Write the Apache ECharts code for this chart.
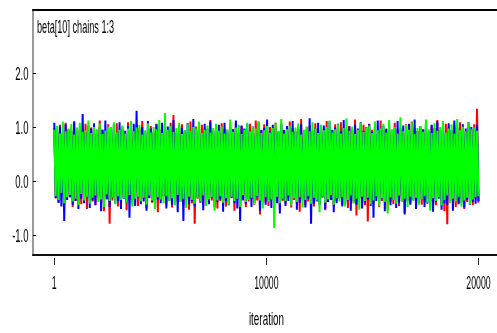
<!DOCTYPE html>
<html>
<head>
<meta charset="utf-8">
<script src="https://cdn.jsdelivr.net/npm/echarts@6/dist/echarts.min.js"></script>
<style>html,body{margin:0;padding:0;background:#fff}#c{width:497px;height:333px}</style>
</head>
<body>
<div id="c"></div>
<script>
// ---- data (each pair = local max / local min of a chain segment) ----
const titleText = 'beta[10] chains 1:3';
const xName = 'iteration';
const xTicks = [1, 10000, 20000];
const yTicks = [-1, 0, 1, 2];
const firstIter = 1, lastIter = 20000;

const redHi = [0.98,0.90,1.04,0.87,1.08,0.93,0.96,1.10,0.89,1.01,
0.94,1.06,0.91,0.99,1.03,0.88,1.12,0.95,0.92,1.05,
0.90,0.97,1.07,0.93,1.00,0.86,1.09,0.96,0.91,1.04,
0.98,1.11,0.89,0.94,1.02,0.92,1.06,0.97,0.88,1.03,
0.95,1.08,1.22,0.90,0.99,1.05,0.93,0.87,1.10,0.96,
1.01,0.91,1.04,0.98,0.89,1.13,0.94,1.00,0.92,1.07,
0.97,0.88,1.03,0.95,1.09,0.90,1.02,0.96,0.93,1.06,
0.99,1.12,0.91,0.94,1.05,0.87,1.00,0.97,1.08,0.92,
1.04,0.95,0.89,1.10,0.98,0.93,1.01,1.15,0.90,0.96,
1.03,0.88,1.07,0.94,1.00,0.97,1.11,0.91,0.95,1.05,
0.92,1.09,0.98,0.89,1.02,0.96,1.14,0.93,0.99,1.04,
0.90,1.06,0.95,1.00,0.87,1.12,0.94,0.97,1.03,0.91,
1.08,0.96,0.99,0.89,1.05,0.93,1.10,0.98,0.92,1.01,
0.95,1.07,0.90,1.03,0.97,1.13,0.94,0.88,1.06,1.00,
0.92,1.04,0.98,1.09,0.95,0.91,1.02,0.96,1.05,1.34];
const redLo = [-0.32,-0.40,-0.27,-0.45,-0.35,-0.30,-0.48,-0.37,-0.29,-0.43,
-0.34,-0.52,-0.31,-0.38,-0.44,-0.28,-0.41,-0.56,-0.33,-0.79,
-0.36,-0.30,-0.47,-0.39,-0.32,-0.54,-0.35,-0.42,-0.29,-0.46,
-0.38,-0.33,-0.50,-0.31,-0.40,-0.36,-0.58,-0.34,-0.28,-0.44,
-0.37,-0.49,-0.32,-0.39,-0.30,-0.45,-0.35,-0.53,-0.41,-0.79,
-0.33,-0.38,-0.46,-0.31,-0.42,-0.36,-0.29,-0.51,-0.37,-0.34,
-0.47,-0.40,-0.32,-0.55,-0.35,-0.43,-0.30,-0.48,-0.38,-0.33,
-0.44,-0.36,-0.62,-0.31,-0.39,-0.46,-0.34,-0.41,-0.29,-0.52,
-0.37,-0.43,-0.32,-0.49,-0.35,-0.40,-0.57,-0.33,-0.45,-0.38,
-0.30,-0.47,-0.36,-0.42,-0.31,-0.54,-0.39,-0.34,-0.46,-0.37,
-0.32,-0.44,-0.40,-0.50,-0.35,-0.41,-0.64,-0.33,-0.38,-0.45,
-0.75,-0.36,-0.42,-0.31,-0.48,-0.37,-0.34,-0.53,-0.39,-0.43,
-0.30,-0.46,-0.38,-0.59,-0.35,-0.41,-0.32,-0.49,-0.36,-0.44,
-0.40,-0.33,-0.51,-0.37,-0.45,-0.31,-0.42,-0.56,-0.80,-0.38,
-0.35,-0.48,-0.41,-0.34,-0.52,-0.39,-0.36,-0.45,-0.33,-0.40];

const blueHi = [1.08,0.93,1.01,0.89,1.05,0.96,0.91,1.10,0.98,0.94,
1.24,0.90,1.03,0.97,1.07,0.88,1.00,0.95,1.12,0.92,
0.99,1.04,0.87,1.09,0.96,0.93,1.02,0.90,1.06,1.30,
0.94,1.00,0.91,1.11,0.97,0.89,1.05,0.95,1.08,0.92,
1.01,0.96,1.13,0.88,1.03,0.98,0.93,1.07,0.90,1.15,
0.95,1.02,0.89,1.06,0.97,1.10,0.92,0.99,1.04,0.91,
1.08,0.94,1.00,0.96,1.12,0.89,1.03,0.97,1.06,0.93,
1.01,0.88,1.09,0.95,0.99,1.14,0.92,1.04,0.97,0.90,
1.07,0.94,1.02,0.98,1.11,0.91,0.96,1.05,0.89,1.00,
1.16,0.93,0.97,1.08,0.95,1.03,0.90,1.10,0.94,0.99,
1.06,0.92,1.13,0.96,1.01,0.88,1.04,0.97,1.09,0.93,
1.00,1.05,0.91,0.98,1.12,0.94,1.02,0.96,1.07,0.90,
0.99,1.11,0.95,1.03,0.92,1.06,0.97,1.14,0.93,1.01,
0.96,1.08,0.90,1.04,0.98,1.10,0.94,1.02,0.89,1.07,
0.95,1.12,0.99,0.93,1.05,0.97,1.09,1.00,0.96,1.04];
const blueLo = [-0.32,-0.40,-0.47,-0.74,-0.35,-0.30,-0.44,-0.37,-0.52,-0.33,
-0.41,-0.29,-0.50,-0.36,-0.45,-0.31,-0.56,-0.38,-0.34,-0.48,
-0.30,-0.42,-0.37,-0.52,-0.33,-0.40,-0.68,-0.35,-0.46,-0.30,
-0.43,-0.38,-0.55,-0.32,-0.39,-0.48,-0.34,-0.41,-0.29,-0.51,
-0.36,-0.44,-0.31,-0.58,-0.38,-0.74,-0.33,-0.42,-0.37,-0.47,
-0.30,-0.40,-0.54,-0.35,-0.43,-0.32,-0.49,-0.39,-0.34,-0.57,
-0.37,-0.45,-0.31,-0.41,-0.51,-0.74,-0.36,-0.42,-0.33,-0.48,
-0.39,-0.30,-0.55,-0.38,-0.44,-0.35,-0.50,-0.32,-0.41,-0.60,
-0.34,-0.46,-0.37,-0.43,-0.31,-0.53,-0.40,-0.36,-0.49,-0.33,
-0.79,-0.42,-0.38,-0.45,-0.30,-0.52,-0.39,-0.35,-0.58,-0.41,
-0.32,-0.47,-0.43,-0.36,-0.55,-0.38,-0.44,-0.31,-0.51,-0.40,
-0.34,-0.46,-0.68,-0.37,-0.42,-0.33,-0.56,-0.39,-0.45,-0.35,
-0.50,-0.41,-0.32,-0.62,-0.38,-0.44,-0.36,-0.52,-0.40,-0.34,
-0.48,-0.42,-0.37,-0.57,-0.39,-0.33,-0.53,-0.41,-0.45,-0.38,
-0.55,-0.36,-0.43,-0.40,-0.49,-0.35,-0.44,-0.39,-0.42,-0.37];

const greenHi = [0.95,1.02,0.88,1.10,0.92,0.97,1.05,0.86,0.99,1.08,
0.91,0.94,1.12,0.89,1.00,0.96,1.06,0.87,0.93,1.01,
0.98,1.09,0.90,0.95,1.03,0.88,0.97,1.11,0.92,0.99,
1.04,0.86,0.94,1.07,0.90,1.00,0.96,1.13,0.89,1.26,
0.95,1.02,0.91,0.98,1.08,0.87,0.94,1.05,0.92,1.00,
0.97,1.10,0.89,0.95,1.03,0.90,0.98,1.06,0.93,1.01,
0.88,0.96,1.14,0.91,0.99,1.04,0.87,0.95,1.08,0.92,
1.00,0.97,1.11,0.89,0.94,1.02,0.90,0.98,1.06,0.93,
1.15,0.88,0.96,1.03,0.91,0.99,1.07,0.86,0.95,1.01,
0.92,1.09,0.97,0.89,1.04,0.94,1.00,1.12,0.90,0.96,
1.05,0.88,0.98,1.16,0.93,1.01,0.87,0.95,1.08,0.91,
0.99,1.03,0.89,1.10,0.94,0.97,1.06,0.90,1.13,0.96,
1.00,0.88,1.18,0.92,1.04,0.95,1.09,0.87,0.98,1.02,
0.91,1.14,0.96,0.89,1.07,0.93,1.00,1.11,0.90,0.97,
1.05,0.88,1.15,0.94,1.01,0.92,1.08,0.96,0.99,0.93];
const greenLo = [-0.28,-0.35,-0.22,-0.41,-0.30,-0.26,-0.38,-0.33,-0.45,-0.24,
-0.36,-0.29,-0.42,-0.31,-0.27,-0.39,-0.34,-0.48,-0.25,-0.37,
-0.30,-0.43,-0.28,-0.35,-0.32,-0.40,-0.26,-0.47,-0.33,-0.29,
-0.38,-0.31,-0.44,-0.27,-0.36,-0.52,-0.30,-0.34,-0.41,-0.28,
-0.37,-0.32,-0.45,-0.26,-0.39,-0.33,-0.50,-0.29,-0.35,-0.42,
-0.31,-0.38,-0.27,-0.46,-0.34,-0.30,-0.55,-0.36,-0.28,-0.40,
-0.32,-0.44,-0.29,-0.37,-0.33,-0.48,-0.26,-0.39,-0.35,-0.31,
-0.43,-0.28,-0.36,-0.51,-0.30,-0.38,-0.34,-0.87,-0.29,-0.41,
-0.33,-0.37,-0.27,-0.45,-0.32,-0.39,-0.30,-0.49,-0.35,-0.28,
-0.42,-0.31,-0.36,-0.58,-0.29,-0.40,-0.34,-0.26,-0.44,-0.32,
-0.38,-0.30,-0.47,-0.35,-0.27,-0.41,-0.33,-0.53,-0.29,-0.37,
-0.31,-0.43,-0.36,-0.28,-0.46,-0.32,-0.39,-0.60,-0.30,-0.35,
-0.42,-0.27,-0.38,-0.33,-0.48,-0.29,-0.36,-0.31,-0.44,-0.34,
-0.28,-0.40,-0.55,-0.32,-0.37,-0.30,-0.45,-0.35,-0.27,-0.41,
-0.33,-0.38,-0.29,-0.47,-0.36,-0.31,-0.43,-0.34,-0.30,-0.28];

// ---- build series data: alternate local max / local min along the iterations ----
function trace(hi, lo) {
  const n = hi.length * 2;
  const step = (lastIter - firstIter) / (n - 1);
  const out = [];
  for (let i = 0; i < hi.length; i++) {
    out.push([firstIter + (2 * i) * step, hi[i]]);
    out.push([firstIter + (2 * i + 1) * step, lo[i]]);
  }
  return out;
}

const FONT = "19px 'Liberation Sans', Arial, sans-serif";
const xMin = -1003, xMax = 20874, yMin = -1.370, yMax = 3.167;

const chart = echarts.init(document.getElementById('c'), null, {renderer: 'canvas'});
const lineSeries = (name, color, hi, lo) => ({
  name, type: 'line', xAxisIndex: 0, yAxisIndex: 0,
  data: trace(hi, lo), showSymbol: false, symbol: 'none',
  lineStyle: {color, width: 2}, itemStyle: {color},
  animation: false, silent: true, clip: true
});

chart.setOption({
  animation: false,
  backgroundColor: '#fff',
  grid: {left: 33, right: 0, top: 10, bottom: 78, containLabel: false, outerBoundsMode: 'none'},
  xAxis: [
    {type: 'value', position: 'bottom', min: xMin, max: xMax,
     axisLine: {show: true, onZero: false, lineStyle: {color: '#111', width: 2}},
     axisTick: {show: false}, axisLabel: {show: false}, splitLine: {show: false}},
    {type: 'value', position: 'bottom', offset: 3, min: xMin, max: xMax,
     axisLine: {show: false, onZero: false},
     axisTick: {show: true, customValues: xTicks, length: 7, lineStyle: {color: '#222', width: 1}},
     axisLabel: {show: false}, splitLine: {show: false}},
    {type: 'value', position: 'top', min: xMin, max: xMax,
     axisLine: {show: true, onZero: false, lineStyle: {color: '#000', width: 2}},
     axisTick: {show: false}, axisLabel: {show: false}, splitLine: {show: false}}
  ],
  yAxis: [
    {type: 'value', min: yMin, max: yMax,
     axisLine: {show: true, onZero: false, lineStyle: {color: '#888', width: 1.7}},
     axisTick: {show: true, inside: true, customValues: yTicks, length: 3, lineStyle: {color: '#000', width: 1}},
     axisLabel: {show: false},
     splitLine: {show: false}}
  ],
  series: [
    lineSeries('chain 1', '#ff0000', redHi, redLo),
    lineSeries('chain 2', '#0000ff', blueHi, blueLo),
    lineSeries('chain 3', '#00ff00', greenHi, greenLo)
  ]
});

// ---- condensed text labels, positioned through the chart's own axis scales ----
const g = [];
g.push({type: 'text', x: 37, y: 27.7, scaleX: 0.48,
        style: {text: titleText, font: FONT, fill: '#000', align: 'left', verticalAlign: 'middle'}});
yTicks.forEach(v => {
  const py = chart.convertToPixel({yAxisIndex: 0}, v);
  g.push({type: 'text', x: 28.5, y: py + 1.5, scaleX: 0.5,
          style: {text: v.toFixed(1), font: FONT, fill: '#000', align: 'right', verticalAlign: 'middle'}});
});
xTicks.forEach(v => {
  const px = chart.convertToPixel({xAxisIndex: 0}, v);
  g.push({type: 'text', x: px, y: 283.4, scaleX: 0.46,
          style: {text: String(v), font: FONT, fill: '#000', align: 'center', verticalAlign: 'middle'}});
});
const gridMid = (chart.convertToPixel({xAxisIndex: 0}, xMin) + chart.convertToPixel({xAxisIndex: 0}, xMax)) / 2;
g.push({type: 'text', x: gridMid + 1.5, y: 320, scaleX: 0.52,
        style: {text: xName, font: FONT, fill: '#000', align: 'center', verticalAlign: 'middle'}});
chart.setOption({graphic: g});
</script>
</body>
</html>
